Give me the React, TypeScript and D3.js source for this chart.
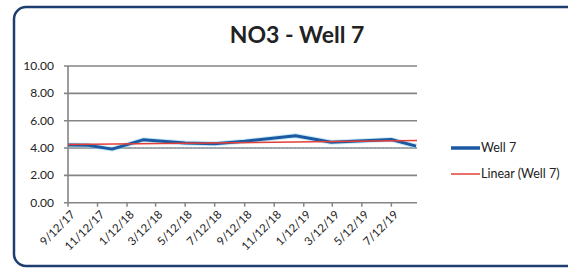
import React, { useEffect, useRef } from 'react';
import * as d3 from 'd3';

// sample dates and NO3 readings for Well 7
const sampleDates = [
  '2017-09-12', '2017-10-24', '2017-12-12', '2018-02-14', '2018-05-12',
  '2018-07-12', '2018-09-12', '2018-12-26', '2019-03-10', '2019-07-12', '2019-09-01',
];
const well7 = [4.22, 4.2, 3.92, 4.6, 4.36, 4.32, 4.5, 4.9, 4.42, 4.62, 4.14];

// faint dashed reference line under the series
const refDates = ['2018-01-22', '2019-09-01'];
const refValues = [4.02, 4.02];

const xTickDates = [
  '2017-09-12', '2017-11-12', '2018-01-12', '2018-03-12', '2018-05-12', '2018-07-12',
  '2018-09-12', '2018-11-12', '2019-01-12', '2019-03-12', '2019-05-12', '2019-07-12',
];
const yTicks = [0, 2, 4, 6, 8, 10];

const legendLabels = ['Well 7', 'Linear (Well 7)'];

export default function App() {
  const ref = useRef<SVGSVGElement>(null);

  useEffect(() => {
    const width = 568;
    const height = 270;
    const plot = { left: 68, right: 417, top: 66, bottom: 202.7 };
    const parse = d3.timeParse('%Y-%m-%d');
    const fmt = d3.timeFormat('%-m/%-d/%y');

    const svg = d3.select(ref.current).attr('viewBox', [0, 0, width, height] as any);
    svg.selectAll('*').remove();

    // frame
    svg.append('rect').attr('width', width).attr('height', height).attr('fill', '#fff');
    svg
      .append('rect')
      .attr('x', 14)
      .attr('y', 7)
      .attr('width', 590)
      .attr('height', 259)
      .attr('rx', 12)
      .attr('fill', '#fff')
      .attr('stroke', '#1e3d70')
      .attr('stroke-width', 2.5);

    // title
    svg
      .append('text')
      .attr('x', 297)
      .attr('y', 43)
      .attr('text-anchor', 'middle')
      .attr('font-family', 'Lato')
      .attr('font-weight', 'bold')
      .attr('font-size', 23)
      .attr('fill', '#222')
      .text('NO3 - Well 7');

    const x = d3
      .scaleTime()
      .domain([parse('2017-09-12')!, parse('2019-09-03')!])
      .range([plot.left, plot.right]);
    const y = d3.scaleLinear().domain([0, 10]).range([plot.bottom, plot.top]);

    // gridlines
    const grid = svg.append('g');
    yTicks.forEach((t) => {
      grid
        .append('line')
        .attr('x1', plot.left - 4)
        .attr('x2', plot.right)
        .attr('y1', y(t))
        .attr('y2', y(t))
        .attr('stroke', '#858585')
        .attr('stroke-width', 1.6);
      grid
        .append('text')
        .attr('x', 54)
        .attr('y', y(t) + 4)
        .attr('text-anchor', 'end')
        .attr('font-family', 'Lato')
        .attr('font-size', 12)
        .attr('fill', '#222')
        .text(t.toFixed(2));
    });
    grid
      .append('line')
      .attr('x1', plot.left)
      .attr('x2', plot.left)
      .attr('y1', plot.top)
      .attr('y2', plot.bottom)
      .attr('stroke', '#858585')
      .attr('stroke-width', 1.6);

    // x ticks and rotated labels
    const xg = svg.append('g');
    xTickDates.map((d) => parse(d)!).forEach((d) => {
      xg.append('line')
        .attr('x1', x(d))
        .attr('x2', x(d))
        .attr('y1', plot.bottom)
        .attr('y2', plot.bottom + 4)
        .attr('stroke', '#858585')
        .attr('stroke-width', 1.5);
      xg.append('text')
        .attr('transform', `translate(${x(d) + 2},${plot.bottom + 7}) rotate(-45)`)
        .attr('text-anchor', 'end')
        .attr('dy', '0.7em')
        .attr('font-family', 'Lato')
        .attr('font-size', 11.5)
        .attr('fill', '#222')
        .text(fmt(d));
    });

    const pts = sampleDates.map((d, i) => ({ date: parse(d)!, v: well7[i] }));

    // dashed reference
    const refPts = refDates.map((d, i) => ({ date: parse(d)!, v: refValues[i] }));
    svg
      .append('path')
      .datum(refPts)
      .attr('fill', 'none')
      .attr('stroke', '#9fb3c4')
      .attr('stroke-width', 1.5)
      .attr('stroke-dasharray', '2,2')
      .attr(
        'd',
        d3
          .line<{ date: Date; v: number }>()
          .x((d) => x(d.date))
          .y((d) => y(d.v))
      );

    // linear trend (least squares over time)
    const xs = pts.map((p) => +p.date);
    const mx = d3.mean(xs)!;
    const my = d3.mean(well7)!;
    const slope =
      d3.sum(pts, (p) => (+p.date - mx) * (p.v - my)) / d3.sum(xs, (t) => (t - mx) ** 2);
    const trend = x.domain().map((d) => ({ date: d, v: my + slope * (+d - mx) }));

    const line = d3
      .line<{ date: Date; v: number }>()
      .x((d) => x(d.date))
      .y((d) => y(d.v));

    // soft halo seen around the series in the scan
    svg
      .append('path')
      .datum(pts)
      .attr('fill', 'none')
      .attr('stroke', '#8fd3ee')
      .attr('stroke-opacity', 0.5)
      .attr('stroke-width', 5)
      .attr('stroke-linejoin', 'round')
      .attr('d', line);

    svg
      .append('path')
      .datum(pts)
      .attr('fill', 'none')
      .attr('stroke', '#1b5aa3')
      .attr('stroke-width', 3)
      .attr('stroke-linejoin', 'round')
      .attr('d', line);

    svg
      .append('path')
      .datum(trend)
      .attr('fill', 'none')
      .attr('stroke', '#e3403a')
      .attr('stroke-width', 1.5)
      .attr('d', line);

    // legend
    const legend = svg.append('g');
    const colors = ['#1b5aa3', '#e3403a'];
    const widths = [3.5, 1.5];
    legendLabels.forEach((label, i) => {
      const ly = 148 + i * 26;
      legend
        .append('line')
        .attr('x1', 451)
        .attr('x2', 480)
        .attr('y1', ly)
        .attr('y2', ly)
        .attr('stroke', colors[i])
        .attr('stroke-width', widths[i]);
      legend
        .append('text')
        .attr('x', 481)
        .attr('y', ly + 4)
        .attr('font-family', 'Lato')
        .attr('font-size', 12.5)
        .attr('fill', '#222')
        .text(label);
    });
  }, []);

  return (
    <svg
      ref={ref}
      width={568}
      height={270}
      style={{ position: 'absolute', left: 0, top: 0 }}
    />
  );
}
